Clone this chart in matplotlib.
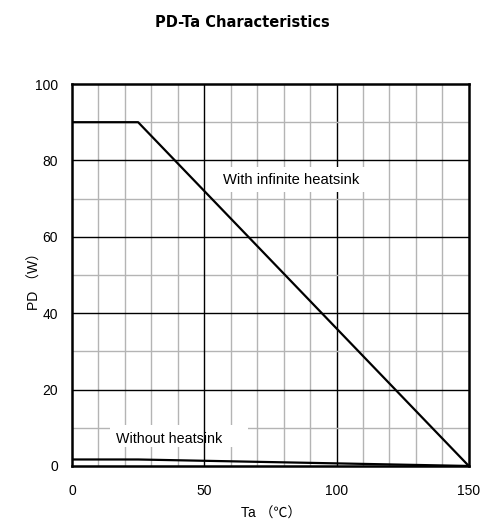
import matplotlib
matplotlib.use("Agg")
import matplotlib.pyplot as plt
from matplotlib.patches import Rectangle
import numpy as np

plt.rcParams['font.family'] = ['Liberation Sans', 'Noto Sans CJK JP', 'DejaVu Sans']

# data
ta_inf = [0, 25, 150]
pd_inf = [90, 90, 0]
ta_none = [0, 25, 150]
pd_none = [1.7, 1.7, 0]

x_ticks = [0, 50, 100, 150]
y_ticks = [0, 20, 40, 60, 80, 100]

fig = plt.figure(figsize=(4.94, 5.30), dpi=100)
ax = fig.add_axes([0.1457, 0.1208, 0.8033, 0.7207])

# grid: light every 10, dark at major ticks
for xv in np.arange(10, 150, 10):
    c = 'black' if xv % 50 == 0 else '#b4b4b4'
    z = 2.5 if xv == 50 else 1
    ax.axvline(xv, color=c, lw=1.0, zorder=z)
for yv in np.arange(10, 100, 10):
    c = 'black' if yv % 20 == 0 else '#b4b4b4'
    ax.axhline(yv, color=c, lw=1.0, zorder=1)

ax.plot(ta_inf, pd_inf, color='black', lw=1.6, zorder=3)
ax.plot(ta_none, pd_none, color='black', lw=1.6, zorder=3)

# white label boxes that cut the grid
ax.add_patch(Rectangle((51.0, 71.7), 60.8, 6.6, facecolor='white', edgecolor='none', zorder=2))
ax.add_patch(Rectangle((14.4, 5.0), 52.1, 5.7, facecolor='white', edgecolor='none', zorder=2))
ax.text(82.7, 74.9, 'With infinite heatsink', fontsize=10.6, ha='center', va='center', zorder=4)
ax.text(36.6, 7.1, 'Without heatsink', fontsize=10.3, ha='center', va='center', zorder=4)

ax.set_xlim(0, 150)
ax.set_ylim(0, 100)
ax.set_xticks(x_ticks)
ax.set_yticks(y_ticks)
ax.tick_params(length=0, labelsize=10)
ax.tick_params(axis='x', pad=13)
ax.tick_params(axis='y', pad=10)
for s in ax.spines.values():
    s.set_linewidth(1.8)
    s.set_zorder(5)

fig.text(271 / 494, 1 - 514 / 530, 'Ta （℃）', fontsize=10, ha='center', va='center')
fig.text(35 / 494, 1 - 278 / 530, 'PD （W）', fontsize=10, ha='center', va='center',
         rotation=90)
fig.text(242.5 / 494, 1 - 22.5 / 530, 'PD-Ta Characteristics', fontsize=10.5,
         fontweight='bold', family='DejaVu Sans', ha='center', va='center')

fig.savefig('out.png', dpi=100)
